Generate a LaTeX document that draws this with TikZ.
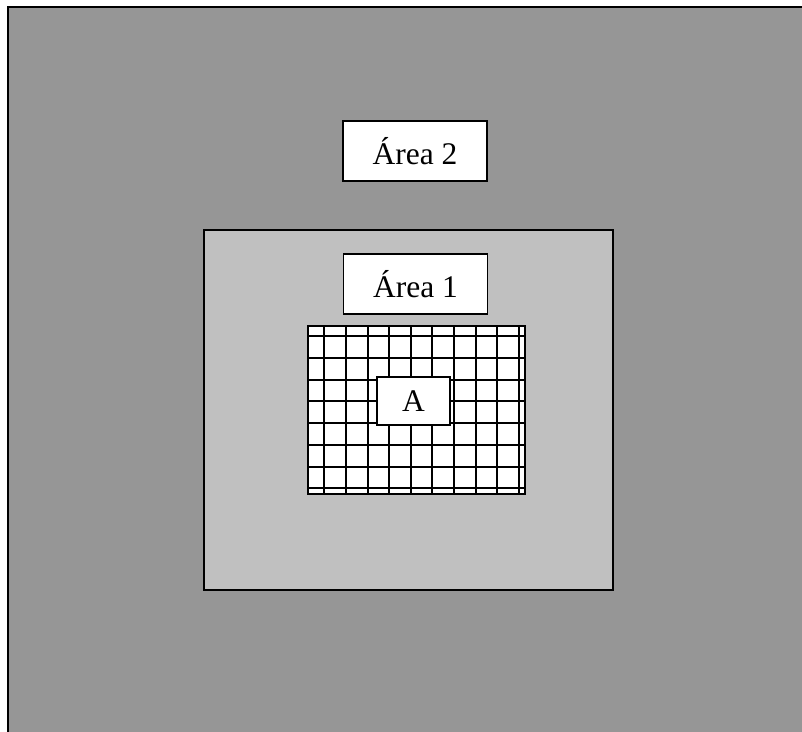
\documentclass[tikz,border=0pt]{standalone}
\usepackage{fontspec}
\setmainfont{Liberation Serif}
\definecolor{outergray}{RGB}{150,150,150}
\definecolor{innergray}{RGB}{192,192,192}

\begin{document}
\begin{tikzpicture}[x=1pt,y=-1pt,thick,
                    area box/.style={draw,fill=white,line width=1.6pt,inner sep=0pt,
                      minimum width=144pt,minimum height=60pt,font=\fontsize{31.5}{33}\selectfont},
                    zone/.style={draw,line width=1.6pt}]
\useasboundingbox (0,0) rectangle (802,731);

% outer area, runs off the right and bottom edges
\draw[zone,fill=outergray] (8,7) rectangle (820,750);
% inner area
\draw[zone,fill=innergray] (204,230) rectangle (613,590);

\node[area box] (area2) at (415,151) {Área 2};
\node[area box] (area1) at (415.5,284) {Área 1};

% grid
\fill[white] (308,326) rectangle (525,494);
\begin{scope}
  \clip (308,326) rectangle (525,494);
  \foreach \i in {0,...,9}
    \draw[line width=2pt] (324.3+21.6*\i,326) -- (324.3+21.6*\i,494);
  \foreach \j in {0,...,7}
    \draw[line width=2pt] (308,336+21.75*\j) -- (525,336+21.75*\j);
\end{scope}
\draw[zone] (308,326) rectangle (525,494);

\node[area box,minimum width=73pt,minimum height=48pt] (a) at (413.5,401) {A};
\end{tikzpicture}
\end{document}
